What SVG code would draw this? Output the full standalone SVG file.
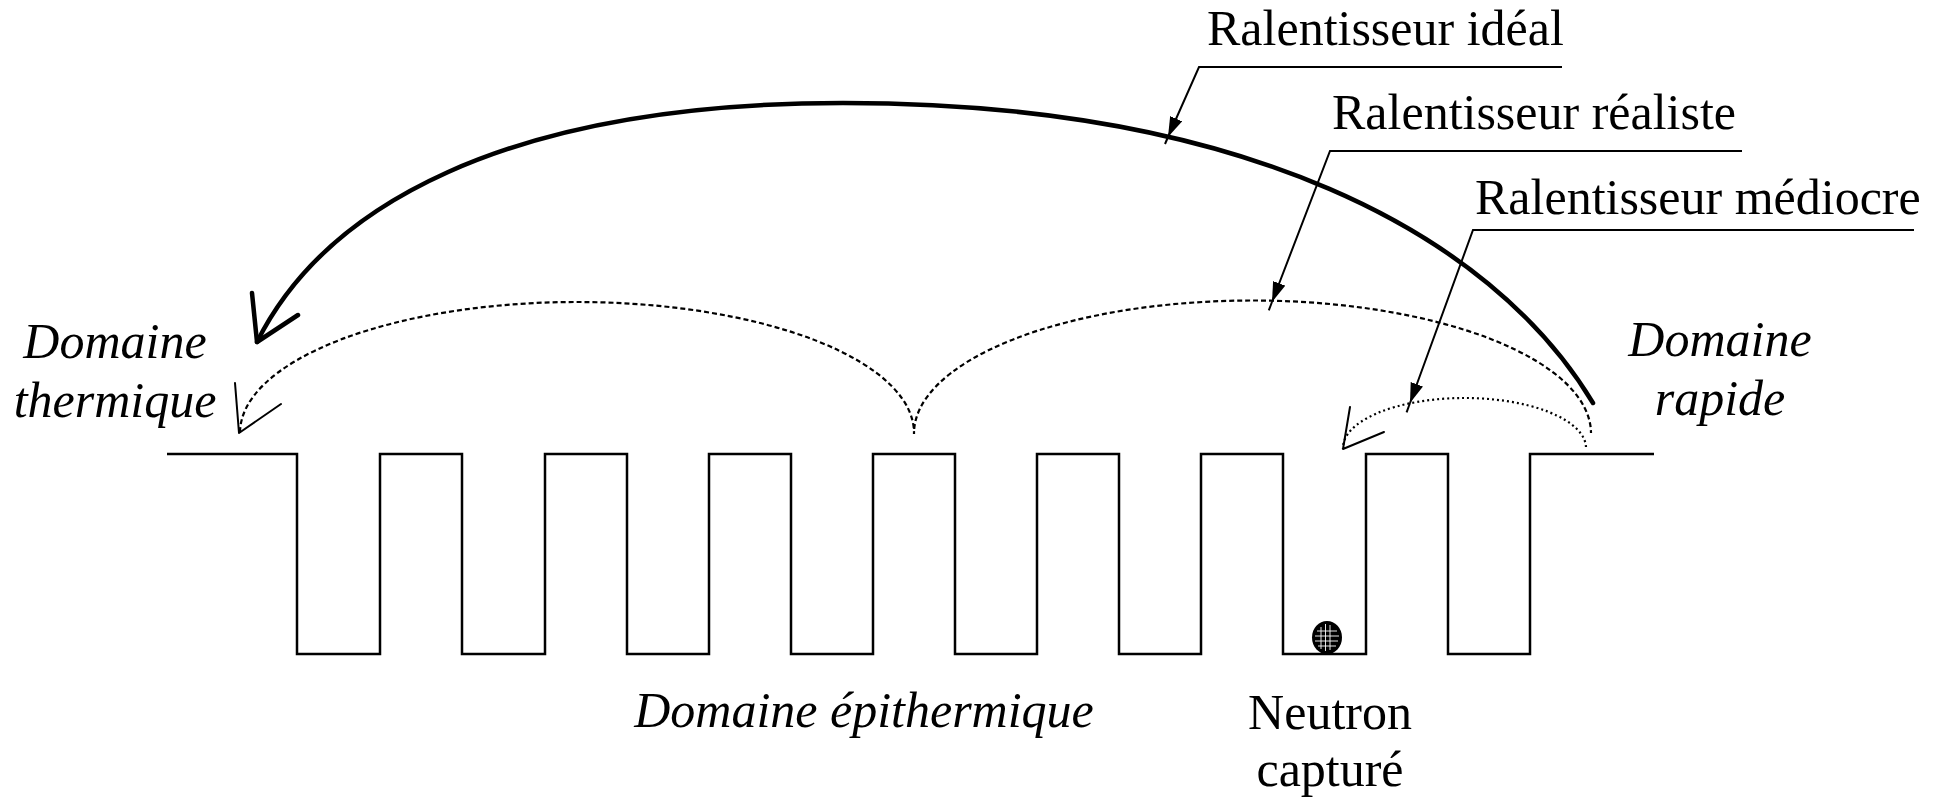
<svg xmlns="http://www.w3.org/2000/svg" width="1943" height="801" viewBox="0 0 1943 801">
  <style>
    .lbl { font-family: "Liberation Serif", "Times New Roman", serif; font-size: 50px; fill: #000; }
    .it { font-style: italic; }
    .wave { fill: none; stroke: #000; stroke-width: 2.5; stroke-linejoin: miter; }
    .thick { fill: none; stroke: #000; stroke-width: 4.5; stroke-linecap: round; stroke-linejoin: round; }
    .dash { fill: none; stroke: #000; stroke-width: 2.2; stroke-dasharray: 5 3; }
    .dot { fill: none; stroke: #000; stroke-width: 2.2; stroke-dasharray: 2 3; }
    .thin { fill: none; stroke: #000; stroke-width: 2; stroke-linecap: round; stroke-linejoin: round; }
    .lead { fill: none; stroke: #000; stroke-width: 2; }
    .grid { stroke: #fff; stroke-width: 0.9; }
  </style>
  <defs>
    <marker id="tri" markerUnits="userSpaceOnUse" markerWidth="22" markerHeight="14" refX="20" refY="6.5" orient="auto">
      <path d="M0,0 L20,6.5 L0,13 z" fill="#000"/>
    </marker>
  </defs>

  <g id="potential-wells">
    <path class="wave" d="M167,454 H297 V654 H380 V454 H462 V654 H545 V454 H627 V654 H709 V454 H791 V654 H873 V454 H955 V654 H1037 V454 H1119 V654 H1201 V454 H1283 V654 H1366 V454 H1448 V654 H1530 V454 H1654"/>
  </g>

  <g id="neutron">
    <ellipse cx="1327" cy="637.5" rx="15" ry="16.5" fill="#000"/>
    <line class="grid" x1="1321" y1="627" x2="1321" y2="649"/>
    <line class="grid" x1="1325.5" y1="624" x2="1325.5" y2="651"/>
    <line class="grid" x1="1330" y1="625" x2="1330" y2="650"/>
    <line class="grid" x1="1317" y1="631" x2="1337" y2="631"/>
    <line class="grid" x1="1315" y1="636" x2="1339" y2="636"/>
    <line class="grid" x1="1315" y1="641" x2="1338" y2="641"/>
    <line class="grid" x1="1318" y1="646" x2="1336" y2="646"/>
  </g>

  <g id="connectors">
    <g id="ideal-path">
      <path class="thick" d="M1593,403 C1490,232 1243,103 843,103 C503,103 324,208 257,342"/>
      <path class="thick" d="M252,293 L257,342 L298,315"/>
    </g>
    <g id="realistic-path">
      <path class="dash" d="M240,432 A337,131 0 0 1 914,434 A338.5,133 0 0 1 1591,433"/>
      <path class="thin" d="M235,383 L239,433 L281,404"/>
    </g>
    <g id="mediocre-path">
      <path class="dot" d="M1586,447 A121.5,50 0 0 0 1343,449"/>
      <path class="thin" d="M1350,407 L1343,449 L1384,432"/>
    </g>
    <g id="leaders">
      <path class="lead" d="M1562,67 H1199 L1168,137" marker-end="url(#tri)"/>
      <line class="lead" x1="1168" y1="137" x2="1165" y2="144"/>
      <path class="lead" d="M1742,151 H1330 L1272,302" marker-end="url(#tri)"/>
      <line class="lead" x1="1272" y1="302" x2="1268.8" y2="310.4"/>
      <path class="lead" d="M1914,230 H1473 L1410,403" marker-end="url(#tri)"/>
      <line class="lead" x1="1410" y1="403" x2="1406.6" y2="412.4"/>
    </g>
  </g>

  <g id="label-ideal"><text class="lbl" x="1207" y="45">Ralentisseur idéal</text></g>
  <g id="label-realistic"><text class="lbl" x="1332" y="129">Ralentisseur réaliste</text></g>
  <g id="label-mediocre"><text class="lbl" x="1475" y="214">Ralentisseur médiocre</text></g>
  <g id="label-thermal">
    <text class="lbl it" x="115" y="358" text-anchor="middle">Domaine</text>
    <text class="lbl it" x="115" y="417" text-anchor="middle">thermique</text>
  </g>
  <g id="label-fast">
    <text class="lbl it" x="1720" y="356" text-anchor="middle">Domaine</text>
    <text class="lbl it" x="1720" y="415" text-anchor="middle">rapide</text>
  </g>
  <g id="label-epithermal">
    <text class="lbl it" x="864" y="727" text-anchor="middle">Domaine épithermique</text>
  </g>
  <g id="label-captured">
    <text class="lbl" x="1330" y="729" text-anchor="middle">Neutron</text>
    <text class="lbl" x="1330" y="786" text-anchor="middle">capturé</text>
  </g>
</svg>
